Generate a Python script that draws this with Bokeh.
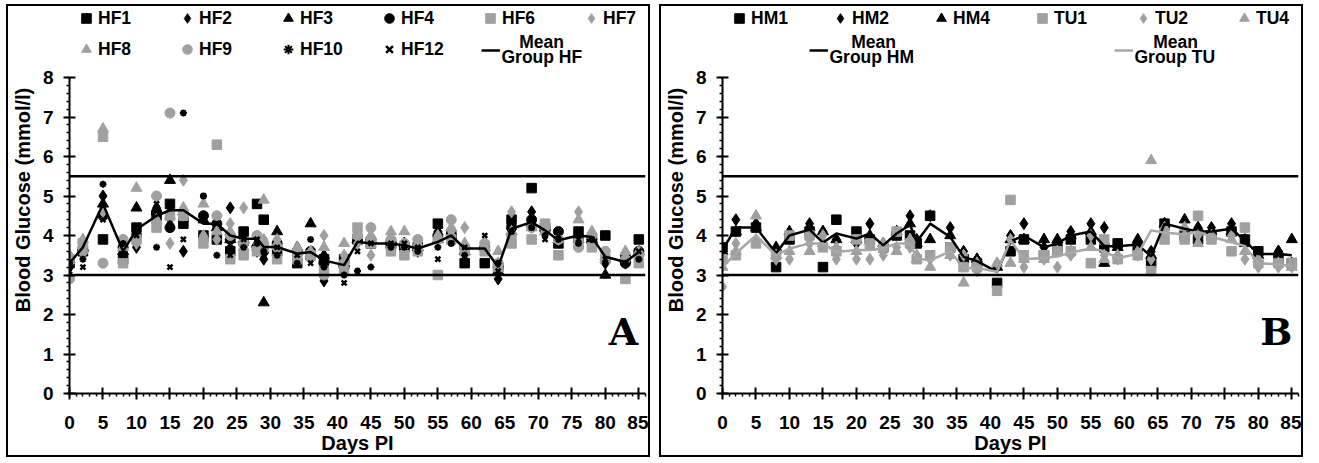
from bokeh.plotting import figure
from bokeh.models import Range1d, SingleIntervalTicker, Span, Label, Legend, LegendItem
from bokeh.layouts import row
from bokeh.embed import file_html
from bokeh.resources import INLINE

# ---------------- data ----------------
days = [0, 2, 5, 8, 10, 13, 15, 17, 20, 22, 24, 26, 28, 29, 31, 34, 36, 38, 41, 43,
        45, 48, 50, 52, 55, 57, 59, 62, 64, 66, 69, 71, 73, 76, 78, 80, 83, 85]

hf1 = [3.3, 3.6, 3.9, 3.4, 4.2, 4.5, 4.8, 4.3, 4.0, 3.9, 3.6, 4.1, 4.8, 4.4, 3.6, 3.3, 3.5, 3.4, 3.4, 3.9,
       3.8, 3.8, 3.7, 3.7, 4.3, 4.0, 3.3, 3.3, 3.2, 4.4, 5.2, 4.2, 3.8, 4.1, 3.9, 4.0, 3.4, 3.9]
hf2 = [3.2, 3.6, 5.0, 3.6, 3.7, 4.7, 4.6, 3.6, 3.9, 4.2, 4.7, 3.8, 3.6, 3.4, 3.6, 3.6, 3.6, 2.85, 3.2, 4.0,
       3.9, 3.8, 3.8, 3.6, 4.1, 3.9, 3.7, 3.7, 2.9, 4.2, 4.6, 4.1, 3.9, 3.9, 3.9, 3.3, 3.3, 3.6]
hf3 = [3.4, 3.7, 4.8, 3.6, 4.7, 4.6, 5.4, 4.6, 4.4, 4.2, 3.9, 3.9, 3.8, 2.3, 4.1, 3.7, 4.3, 3.5, 3.3, 3.9,
       3.9, 3.9, 3.8, 3.7, 3.9, 4.0, 3.6, 3.7, 3.1, 4.1, 4.3, 4.2, 3.9, 3.9, 3.9, 3.0, 3.4, 3.6]
hf4 = [3.3, 3.6, 4.5, 3.7, 4.0, 4.6, 4.2, 4.4, 4.5, 4.3, 3.9, 3.8, 3.7, 3.6, 3.8, 3.6, 3.6, 3.3, 3.2, 3.9,
       3.9, 3.7, 3.7, 3.7, 4.0, 4.0, 3.7, 3.7, 3.2, 4.2, 4.4, 4.2, 4.1, 3.9, 3.9, 3.4, 3.3, 3.6]
hf6 = [3.4, 3.8, 6.5, 3.3, 3.9, 4.2, 4.5, 4.5, 3.8, 6.3, 3.4, 3.5, 3.6, 3.7, 3.4, 3.4, 3.5, 3.1, 3.1, 4.2,
       3.8, 3.6, 3.5, 3.6, 3.0, 3.9, 3.6, 3.6, 3.2, 3.8, 3.9, 4.3, 3.5, 3.8, 3.7, 3.4, 2.9, 3.3]
hf7 = [3.5, 3.7, 4.6, 3.8, 3.8, 4.3, 3.8, 5.4, 4.0, 3.9, 4.3, 4.7, 3.8, 3.9, 3.9, 3.6, 3.5, 4.0, 3.5, 3.8,
       3.5, 3.8, 3.7, 3.7, 4.0, 4.1, 4.2, 3.7, 3.3, 4.6, 4.2, 4.1, 3.9, 4.6, 4.0, 3.5, 3.4, 3.5]
hf8 = [3.5, 3.9, 6.7, 3.7, 5.2, 4.4, 4.5, 4.7, 4.8, 4.1, 4.1, 3.7, 3.7, 4.9, 3.8, 3.7, 3.6, 3.7, 3.8, 4.0,
       4.0, 4.1, 4.1, 3.8, 3.9, 4.2, 3.8, 3.7, 3.6, 4.1, 4.2, 4.1, 3.9, 4.4, 4.1, 3.4, 3.6, 3.6]
hf9 = [2.9, 3.6, 3.3, 3.9, 3.9, 5.0, 7.1, 4.5, 3.9, 4.5, 4.0, 3.8, 4.0, 3.8, 3.7, 3.5, 3.5, 3.0, 3.3, 4.0,
       4.2, 3.9, 3.8, 3.9, 3.9, 4.4, 3.7, 3.8, 3.3, 4.0, 4.2, 4.2, 3.9, 3.7, 4.0, 3.6, 3.4, 3.5]
hf10 = [3.3, 3.4, 5.3, 3.8, 4.1, 3.7, 4.3, 7.1, 5.0, 3.5, 3.7, 3.7, 3.8, 3.6, 3.5, 3.3, 3.9, 3.2, 3.0, 3.1,
        3.2, 3.7, 3.7, 3.6, 3.7, 3.8, 3.5, 3.3, 3.3, 4.1, 4.2, 4.0, 3.9, 3.8, 3.9, 3.3, 3.3, 3.4]
hf12 = [3.1, 3.2, 4.4, 3.5, 4.0, 4.8, 3.2, 3.9, 5.0, 4.3, 3.5, 3.9, 3.9, 3.5, 3.7, 3.5, 3.3, 3.4, 2.8, 3.6,
        3.8, 3.8, 3.8, 3.7, 3.4, 3.8, 3.7, 4.0, 3.1, 4.1, 4.2, 3.9, 4.0, 3.9, 3.9, 3.4, 3.3, 3.6]
mean_hf = [3.3, 3.7, 4.8, 3.6, 4.15, 4.5, 4.64, 4.64, 4.3, 4.3, 4.0, 3.92, 3.92, 3.71, 3.71, 3.54, 3.58, 3.37,
           3.25, 3.84, 3.8, 3.8, 3.75, 3.67, 3.84, 4.0, 3.67, 3.67, 3.2, 4.17, 4.34, 4.13, 3.88, 4.0, 3.96,
           3.46, 3.33, 3.58]

hm1 = [3.7, 4.1, 4.2, 3.2, 3.9, 4.1, 3.2, 4.4, 4.1, 3.9, 3.7, 4.0, 4.0, 3.8, 4.5, 3.7, 3.4, 3.3, 2.8, 3.6,
       3.9, 3.5, 3.7, 3.9, 3.9, 3.7, 3.8, 3.7, 3.3, 4.3, 4.0, 3.9, 4.0, 4.1, 3.9, 3.6, 3.4, 3.3]
hm2 = [3.6, 4.4, 4.3, 3.6, 4.0, 4.3, 4.1, 3.9, 3.8, 4.3, 3.7, 4.1, 4.5, 3.9, 4.5, 4.2, 3.6, 3.4, 3.2, 4.0,
       4.3, 3.7, 3.8, 4.1, 4.3, 4.2, 3.7, 3.7, 3.6, 4.3, 4.1, 4.2, 4.2, 4.3, 3.9, 3.5, 3.6, 3.3]
hm4 = [3.6, 4.1, 4.2, 3.7, 4.1, 4.2, 4.1, 3.9, 3.9, 4.0, 3.8, 4.1, 4.3, 3.8, 3.9, 4.0, 3.4, 3.4, 3.2, 3.9,
       3.9, 3.9, 3.9, 4.0, 4.1, 3.3, 3.7, 3.9, 3.5, 4.3, 4.4, 4.2, 4.1, 4.1, 3.8, 3.5, 3.6, 3.9]
tu1 = [3.4, 3.5, 3.8, 3.5, 4.0, 4.0, 3.7, 3.6, 3.9, 3.8, 3.7, 4.1, 3.8, 3.4, 3.5, 3.7, 3.2, 3.2, 2.6, 4.9,
       3.5, 3.5, 3.6, 3.6, 3.3, 3.9, 3.4, 3.5, 3.1, 3.9, 3.9, 4.5, 3.9, 3.6, 4.2, 3.3, 3.3, 3.3]
tu2 = [2.7, 3.8, 3.9, 3.4, 3.4, 3.8, 4.0, 3.4, 3.4, 3.4, 3.5, 3.7, 3.7, 3.5, 3.4, 3.5, 3.5, 3.1, 3.3, 3.9,
       3.2, 3.4, 3.2, 3.5, 4.0, 3.5, 3.4, 3.5, 3.4, 4.1, 4.0, 4.0, 4.0, 4.0, 3.4, 3.2, 3.2, 3.2]
tu4 = [3.2, 3.6, 4.5, 3.5, 3.6, 3.6, 3.8, 3.7, 3.6, 3.7, 3.8, 3.6, 3.9, 3.4, 3.2, 3.5, 2.8, 3.3, 3.3, 3.3,
       3.4, 3.4, 3.6, 3.6, 3.7, 3.4, 3.5, 3.6, 5.9, 4.2, 4.2, 3.8, 4.0, 3.9, 3.6, 3.4, 3.3, 3.2]
mean_hm = [3.63, 4.2, 4.2, 3.55, 4.0, 4.15, 3.82, 4.05, 3.92, 4.05, 3.75, 4.05, 4.27, 3.84, 4.3, 3.96, 3.46,
           3.35, 3.08, 3.85, 4.0, 3.7, 3.8, 4.0, 4.1, 3.73, 3.73, 3.77, 3.47, 4.3, 4.17, 4.1, 4.1, 4.17,
           3.87, 3.53, 3.53, 3.5]
mean_tu = [3.2, 3.55, 4.0, 3.5, 3.67, 3.8, 3.8, 3.58, 3.63, 3.63, 3.67, 3.8, 3.8, 3.42, 3.37, 3.6, 3.17,
           3.18, 3.08, 3.88, 3.4, 3.43, 3.47, 3.57, 3.67, 3.6, 3.43, 3.53, 4.13, 4.07, 4.03, 4.1, 3.97,
           3.83, 3.73, 3.3, 3.27, 3.23]

x_ticks_step = 5
y_ticks_step = 1
ref_lines = [5.5, 3.0]

FONT = "Liberation Sans"
BLACK = "black"
GRAY = "#a0a0a0"
GRAY_LINE = "#a8a8a8"

FIG_W, FIG_H = 644, 453
MB_LEFT, MB_RIGHT, MB_TOP, MB_BOTTOM = 61, 7, 0, 66
PX_PER_UNIT = 39.5
FRAME_BOTTOM_ABS = 393  # page y of the y=0 line


def make_fig(panel_letter):
    ytop = (FIG_H - MB_TOP - MB_BOTTOM) / PX_PER_UNIT
    p = figure(width=FIG_W, height=FIG_H, x_range=Range1d(0, 86), y_range=Range1d(0, ytop),
               output_backend="svg", toolbar_location=None,
               min_border_left=MB_LEFT, min_border_right=MB_RIGHT,
               min_border_top=MB_TOP, min_border_bottom=MB_BOTTOM)
    p.styles = {"border": "2px solid black"}
    p.outline_line_color = None
    p.xgrid.visible = False
    p.ygrid.visible = False
    p.background_fill_color = "white"
    p.border_fill_color = "white"

    xa = p.xaxis[0]
    ya = p.yaxis[0]
    xa.ticker = SingleIntervalTicker(interval=x_ticks_step, num_minor_ticks=5)
    ya.ticker = SingleIntervalTicker(interval=y_ticks_step, num_minor_ticks=5)
    ya.bounds = (0, 8)
    for ax in (xa, ya):
        ax.axis_line_width = 2
        ax.axis_line_color = BLACK
        ax.major_tick_line_width = 2
        ax.major_tick_line_color = BLACK
        ax.major_tick_in = 6
        ax.major_tick_out = 6
        ax.minor_tick_line_width = 1.5
        ax.minor_tick_line_color = BLACK
        ax.minor_tick_in = 0
        ax.minor_tick_out = 3
        ax.major_label_text_font = FONT
        ax.major_label_text_font_size = "19px"
        ax.major_label_text_font_style = "bold"
        ax.major_label_text_color = BLACK
        ax.axis_label_text_font = FONT
        ax.axis_label_text_font_size = "20px"
        ax.axis_label_text_font_style = "bold"
        ax.axis_label_text_color = BLACK
    xa.axis_label = "Days PI"
    ya.axis_label = "Blood Glucose (mmol/l)"
    xa.major_label_standoff = 16
    xa.axis_label_standoff = 0
    ya.major_label_standoff = 10
    ya.axis_label_standoff = 6

    for v in ref_lines:
        p.add_layout(Span(location=v, dimension="width", line_color=BLACK, line_width=2.5))

    p.add_layout(Label(x=82.7, y=1.57, text=panel_letter, text_font="DejaVu Serif",
                       text_font_style="bold", text_font_size="38px", text_align="center",
                       text_baseline="middle", text_color=BLACK))
    return p


def add_series(p, ys, marker, color, size=10, lw=1.0):
    return p.scatter(days, ys, marker=marker, size=size, fill_color=color, line_color=color,
                     line_width=lw)


def up(y_abs):
    # page y (from top) -> px above the frame bottom
    return FRAME_BOTTOM_ABS - y_abs


def add_legend(p, items, x, y_center_abs, glyph=24, label_w=72, spacing=5, standoff=0):
    lg = Legend(items=items, location=(x, up(y_center_abs) - 12), orientation="horizontal",
                glyph_width=glyph, glyph_height=24, label_width=label_w, label_height=20,
                label_standoff=standoff, spacing=spacing, padding=0, margin=0,
                border_line_color=None, background_fill_alpha=0,
                label_text_font=FONT, label_text_font_size="17.5px",
                label_text_font_style="bold", label_text_color=BLACK)
    p.add_layout(lg, "center")
    return lg


def text_label(p, text, x, y_abs, align):
    p.add_layout(Label(x=x, y=up(y_abs), x_units="screen", y_units="screen", text=text,
                       text_font=FONT, text_font_size="17.5px", text_font_style="bold",
                       text_align=align, text_baseline="middle", text_color=BLACK))


def mean_entry(p, renderer, group_text, line_x, mean_cx):
    # line sample (legend glyph), then two-line wrapped label "Mean" / "Group XX"
    add_legend(p, [LegendItem(label=" ", renderers=[renderer])], line_x, 50,
               glyph=19, label_w=4, standoff=0)
    text_label(p, "Mean", mean_cx, 41.5, "center")
    text_label(p, group_text, line_x + 20, 56.5, "left")


# ---------------- panel A ----------------
pA = make_fig("A")
rA = {}
rA["HF1"] = add_series(pA, hf1, "square", BLACK, 9.5)
rA["HF2"] = add_series(pA, hf2, "diamond", BLACK, 12)
rA["HF3"] = add_series(pA, hf3, "triangle", BLACK, 11)
rA["HF4"] = add_series(pA, hf4, "circle", BLACK, 10)
rA["HF6"] = add_series(pA, hf6, "square", GRAY, 9.5)
rA["HF7"] = add_series(pA, hf7, "diamond", GRAY, 12)
rA["HF8"] = add_series(pA, hf8, "triangle", GRAY, 11)
rA["HF9"] = add_series(pA, hf9, "circle", GRAY, 10)
rA["HF10"] = add_series(pA, hf10, "asterisk", BLACK, 7, 2)
rA["HF12"] = add_series(pA, hf12, "x", BLACK, 7, 2.5)
rA["MeanHF"] = pA.line(days, mean_hf, line_color=BLACK, line_width=2.5)

add_legend(pA, [LegendItem(label=k, renderers=[rA[k]]) for k in ["HF1", "HF2", "HF3", "HF4", "HF6", "HF7"]],
           5, 18)
add_legend(pA, [LegendItem(label=k, renderers=[rA[k]]) for k in ["HF8", "HF9", "HF10", "HF12"]],
           5, 49)
mean_entry(pA, rA["MeanHF"], "Group HF", 412, 472)

# ---------------- panel B ----------------
pB = make_fig("B")
rB = {}
rB["HM1"] = add_series(pB, hm1, "square", BLACK, 9.5)
rB["HM2"] = add_series(pB, hm2, "diamond", BLACK, 12)
rB["HM4"] = add_series(pB, hm4, "triangle", BLACK, 11)
rB["TU1"] = add_series(pB, tu1, "square", GRAY, 9.5)
rB["TU2"] = add_series(pB, tu2, "diamond", GRAY, 12)
rB["TU4"] = add_series(pB, tu4, "triangle", GRAY, 11)
rB["MeanHM"] = pB.line(days, mean_hm, line_color=BLACK, line_width=2.5)
rB["MeanTU"] = pB.line(days, mean_tu, line_color=GRAY_LINE, line_width=2.5)

add_legend(pB, [LegendItem(label=k, renderers=[rB[k]]) for k in ["HM1", "HM2", "HM4", "TU1", "TU2", "TU4"]],
           5, 18)
mean_entry(pB, rB["MeanHM"], "Group HM", 87, 151)
mean_entry(pB, rB["MeanTU"], "Group TU", 392, 453)

layout = row(pA, pB, spacing=9)
layout.styles = {"margin-left": "6px", "margin-top": "4px"}
open("out.html", "w").write(file_html(layout, INLINE))
